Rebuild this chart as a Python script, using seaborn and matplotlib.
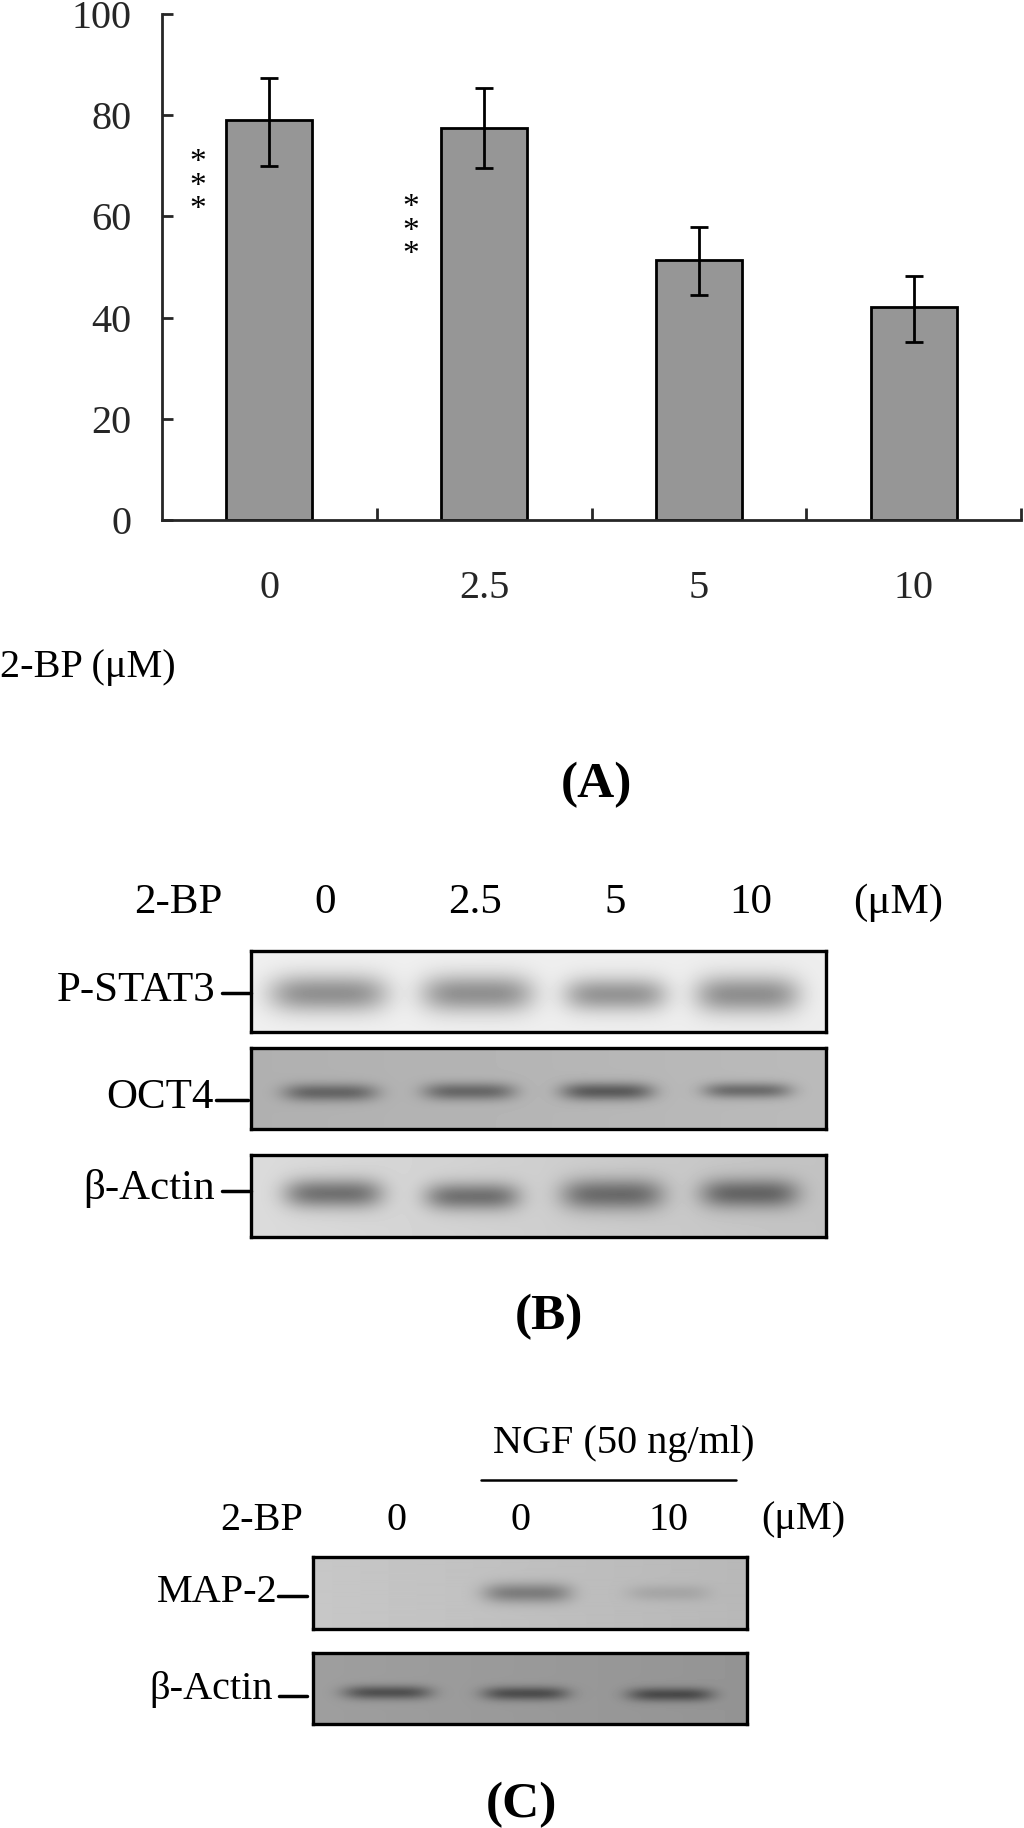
import numpy as np
import pandas as pd
import matplotlib
matplotlib.use("Agg")
import matplotlib.pyplot as plt
import seaborn as sns

# ---- data ----
doses = ['0', '2.5', '5', '10']
means = [79, 77.5, 51.3, 42]
err_top = [87.3, 85.3, 58, 48.2]
err_bottom = [70, 69.5, 44.5, 35.2]
y_ticks = [0, 20, 40, 60, 80, 100]

# blot bands: centre x, half width, centre y, half height, darkness (pixels of the figure)
pstat3_bands = [(328, 59, 993, 19, 0.37), (477, 56, 993, 19, 0.37), (615, 51, 994, 17, 0.35), (747, 52, 994, 19, 0.37)]
oct4_bands = [(330, 47, 1092, 9, 0.30), (469, 46, 1091, 9, 0.30), (607, 46, 1091, 9, 0.36), (747, 44, 1090, 8, 0.30)]
actin_b_bands = [(333, 49, 1193, 15, 0.40), (472, 47, 1196, 14, 0.38), (612, 51, 1194, 16, 0.38), (749, 49, 1193, 15, 0.38)]
map2_bands = [(527, 44, 1593, 10, 0.26), (668, 41, 1593, 8, 0.08)]
actin_c_bands = [(387, 44, 1692, 7, 0.30), (525, 43, 1693, 7, 0.30), (670, 43, 1694, 7, 0.30)]

W, H = 1024, 1828
sns.set_style("ticks")
plt.rcParams['font.family'] = ['Liberation Serif', 'DejaVu Sans']
plt.rcParams['mathtext.fontset'] = 'stix'
fig = plt.figure(figsize=(W / 100, H / 100), dpi=100)


def px_axes(left, top, right, bottom):
    return fig.add_axes([left / W, 1 - bottom / H, (right - left) / W, (bottom - top) / H])


# ---- panel A ----
ax = px_axes(162, 14, 1021, 520)
df = pd.DataFrame({'dose': doses, 'value': means})
sns.barplot(data=df, x='dose', y='value', color='#969696', saturation=1, width=0.4,
            edgecolor='black', linewidth=2, errorbar=None, ax=ax)
low = np.array(means) - np.array(err_bottom)
high = np.array(err_top) - np.array(means)
ax.errorbar(range(len(doses)), means, yerr=[low, high], fmt='none', ecolor='black',
            elinewidth=2, capsize=6.5, capthick=2)
ax.set_xlim(-0.5, 3.5)
ax.set_ylim(0, 100)
ax.set_xlabel('')
ax.set_ylabel('')
ax.set_yticks(y_ticks)
ax.tick_params(axis='y', direction='in', length=8, width=2, labelsize=29, pad=22)
ax.tick_params(axis='x', which='major', length=0, labelsize=29, pad=36)
ax.set_xticks([0.5, 1.5, 2.5, 3.5], minor=True)
ax.tick_params(axis='x', which='minor', direction='in', length=9, width=2)
sns.despine(ax=ax)
for side in ['left', 'bottom']:
    ax.spines[side].set_linewidth(2)

# overlay for the loose text, in figure pixels
ov = fig.add_axes([0, 0, 1, 1], zorder=5)
ov.set_xlim(0, W)
ov.set_ylim(H, 0)
ov.axis('off')


def label(x, y, s, size=29, ha='center', **kw):
    ov.text(x, y, s, fontsize=size, ha=ha, va='center', color='black', **kw)


for x, ys in [(198, [163, 187, 210]), (411, [208, 232, 255])]:
    for y in ys:
        label(x, y, '*', size=24)

label(0, 667, '2-BP (μM)', ha='left')
label(596, 785, '(A)', size=37, fontweight='bold')


# ---- blots ----
def blot(left, top, right, bottom, bands, bg_left, bg_right):
    xs, ys = np.meshgrid(np.arange(left, right), np.arange(top, bottom))
    img = bg_left + (bg_right - bg_left) * (xs - left) / (right - left)
    for cx, hw, cy, hh, dark in bands:
        img = img - dark * np.exp(-((xs - cx) / hw) ** 4 - ((ys - cy) / hh) ** 2)
    a = px_axes(left, top, right, bottom)
    a.imshow(img, cmap='gray', vmin=0, vmax=1, aspect='auto', interpolation='bilinear')
    a.set_xticks([])
    a.set_yticks([])
    for s in a.spines.values():
        s.set_visible(True)
        s.set_linewidth(2.4)
        s.set_color('black')


blot(251, 951, 826, 1032, pstat3_bands, 0.94, 0.93)
blot(251, 1048, 826, 1129, oct4_bands, 0.69, 0.73)
blot(251, 1155, 826, 1237, actin_b_bands, 0.86, 0.76)
blot(313, 1557, 747, 1629, map2_bands, 0.78, 0.72)
blot(313, 1653, 747, 1724, actin_c_bands, 0.62, 0.58)

# ---- panel B text ----
label(178, 903, '2-BP', size=31)
for x, s in zip([325, 475, 615, 751], doses):
    label(x, 903, s, size=31)
label(898, 903, '(μM)', size=31)
label(215, 991, 'P-STAT3', size=31, ha='right')
label(214, 1098, 'OCT4', size=31, ha='right')
label(215, 1188, 'β-Actin', size=31, ha='right')
ov.plot([222, 251], [993, 993], color='black', lw=2.5)
ov.plot([216, 248], [1100, 1100], color='black', lw=2.5)
ov.plot([222, 251], [1191, 1191], color='black', lw=2.5)
label(549, 1317, '(B)', size=37, fontweight='bold')

# ---- panel C text ----
label(624, 1443, 'NGF (50 ng/ml)', size=29)
ov.plot([481, 736], [1480, 1480], color='black', lw=1.8)
label(262, 1520, '2-BP')
for x, s in zip([397, 521, 668], ['0', '0', '10']):
    label(x, 1520, s)
label(803, 1520, '(μM)')
label(278, 1593, 'MAP-2', ha='right')
label(273, 1690, 'β-Actin', ha='right')
ov.plot([278, 307], [1596, 1596], color='black', lw=2.5)
ov.plot([279, 307], [1696, 1696], color='black', lw=2.5)
label(521, 1805, '(C)', size=37, fontweight='bold')

fig.savefig('out.png', dpi=100)
